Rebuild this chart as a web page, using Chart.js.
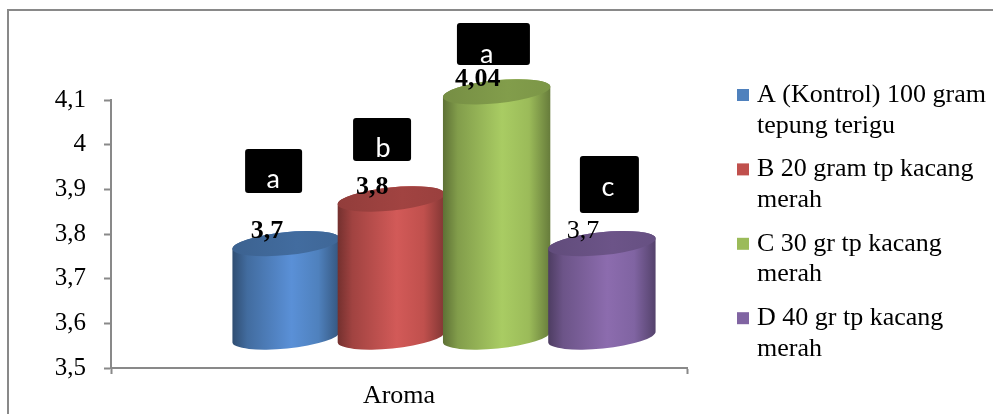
<!DOCTYPE html>
<html>
<head>
<meta charset="utf-8">
<title>Aroma</title>
<script src="https://cdn.jsdelivr.net/npm/chart.js@4.4.1/dist/chart.umd.min.js"></script>
<style>
  html, body { margin: 0; padding: 0; background: #ffffff; }
  #wrap { position: relative; width: 993px; height: 414px; }
</style>
</head>
<body>
<div id="wrap"><canvas id="chart"></canvas></div>
<script>
// ---- data ----
const categories = ['Aroma'];
const seriesLabels = [
  ['A (Kontrol) 100 gram', 'tepung terigu'],
  ['B 20 gram tp kacang', 'merah'],
  ['C 30 gr tp kacang', 'merah'],
  ['D 40 gr tp kacang', 'merah']
];
const scoreA = [3.7];
const scoreB = [3.8];
const scoreC = [4.04];
const scoreD = [3.7];
const seriesValues = [scoreA, scoreB, scoreC, scoreD];
const significance = ['a', 'b', 'a', 'c'];
const yMin = 3.5;
const yMax = 4.1;
const yStep = 0.1;

// ---- styles ----
const seriesColors = ['#4F81BD', '#C0504D', '#9BBB59', '#8064A2'];
const seriesHighlights = ['#5A90D7', '#D25A58', '#A9CC63', '#8C6CAE'];
const valueBold = [true, true, true, false];
const SERIF = '"Liberation Serif", "Times New Roman", serif';
const SANS = 'Lato, "Open Sans", sans-serif';
const AXIS = '#898989';
// 3D depth shift of the cylinders relative to the front axis plane
const DEPTH = { x: 45, top: 35, base: 31 };
// significance tag boxes, relative to cylinder centre / top
const tagBoxes = [
  { left: -41, top: -94.7, w: 57, h: 44, tx: -13, ty: -55.7 },
  { left: -38.3, top: -81, w: 58, h: 43, tx: -8.3, ty: -42 },
  { left: -39.7, top: -68.8, w: 73, h: 42, tx: -10, ty: -28.8 },
  { left: -22, top: -87.7, w: 59, h: 57, tx: 6, ty: -47.7 }
];

const fmt = v => String(Math.round(v * 100) / 100).replace('.', ',');

function shade(hex, f) {
  const n = parseInt(hex.slice(1), 16);
  let r = (n >> 16) & 255, g = (n >> 8) & 255, b = n & 255;
  const t = f < 0 ? 0 : 255, p = Math.abs(f);
  r = Math.round(r + (t - r) * p);
  g = Math.round(g + (t - g) * p);
  b = Math.round(b + (t - b) * p);
  return `rgb(${r},${g},${b})`;
}

function drawCylinder(ctx, cx, topY, baseY, w, color, light) {
  const rx = w / 2, ry = 11.5, rot = -0.1;
  const lx = -rx * Math.cos(rot), ly = -rx * Math.sin(rot);
  ctx.save();
  const body = ctx.createLinearGradient(cx - rx, 0, cx + rx, 0);
  body.addColorStop(0, shade(color, -0.4));
  body.addColorStop(0.14, shade(color, -0.16));
  body.addColorStop(0.55, light);
  body.addColorStop(0.8, shade(color, 0));
  body.addColorStop(1, shade(color, -0.34));
  ctx.beginPath();
  ctx.moveTo(cx + lx, topY + ly);
  ctx.lineTo(cx + lx, baseY + ly);
  ctx.ellipse(cx, baseY, rx, ry, rot, Math.PI, 0, true);
  ctx.lineTo(cx - lx, topY - ly);
  ctx.ellipse(cx, topY, rx, ry, rot, 0, -Math.PI, true);
  ctx.closePath();
  ctx.fillStyle = body;
  ctx.fill();

  const top = ctx.createLinearGradient(cx - rx, topY, cx + rx, topY);
  top.addColorStop(0, shade(color, -0.24));
  top.addColorStop(0.6, shade(color, -0.16));
  top.addColorStop(1, shade(color, -0.2));
  ctx.beginPath();
  ctx.ellipse(cx, topY, rx, ry, rot, 0, Math.PI * 2);
  ctx.fillStyle = top;
  ctx.fill();
  ctx.restore();
}

const framePlugin = {
  id: 'frame',
  beforeDraw(chart) {
    const ctx = chart.ctx;
    ctx.save();
    ctx.strokeStyle = AXIS;
    ctx.lineWidth = 2;
    ctx.strokeRect(8, 10, chart.width + 20, chart.height + 20);
    ctx.restore();
  }
};

const cylinderPlugin = {
  id: 'cylinders',
  beforeDatasetsDraw(chart) {
    const ctx = chart.ctx;
    const floor = chart.scales.y.getPixelForValue(yMin);
    chart.data.datasets.forEach((ds, i) => {
      chart.getDatasetMeta(i).data.forEach(bar => {
        drawCylinder(ctx, bar.x + DEPTH.x, bar.y - DEPTH.top, floor - DEPTH.base, bar.width,
          seriesColors[i], seriesHighlights[i]);
      });
    });
    return false;
  }
};

const annotatePlugin = {
  id: 'annotate',
  afterDraw(chart) {
    const ctx = chart.ctx;
    ctx.save();
    chart.data.datasets.forEach((ds, i) => {
      chart.getDatasetMeta(i).data.forEach((bar, j) => {
        const cx = bar.x + DEPTH.x;
        const ty = bar.y - DEPTH.top;
        const tb = tagBoxes[i];
        // significance tag
        ctx.fillStyle = '#000000';
        ctx.beginPath();
        ctx.roundRect(cx + tb.left, ty + tb.top, tb.w, tb.h, 3);
        ctx.fill();
        ctx.fillStyle = '#ffffff';
        ctx.font = `27px ${SANS}`;
        ctx.textAlign = 'center';
        ctx.textBaseline = 'alphabetic';
        ctx.fillText(significance[i], cx + tb.tx, ty + tb.ty);
        // value label
        ctx.fillStyle = '#000000';
        ctx.font = `${valueBold[i] ? 'bold ' : ''}26px ${SERIF}`;
        ctx.fillText(fmt(ds.data[j]), cx - 19, ty - 5.5);
      });
    });

    // legend
    const lx = chart.chartArea.right + 50;
    ctx.textAlign = 'left';
    ctx.textBaseline = 'alphabetic';
    ctx.font = `26px ${SERIF}`;
    chart.data.datasets.forEach((ds, i) => {
      const base = 102 + i * 74.4;
      ctx.fillStyle = seriesColors[i];
      ctx.fillRect(lx, base - 13, 12, 12);
      ctx.fillStyle = '#000000';
      ds.label.forEach((line, k) => ctx.fillText(line, lx + 20, base + k * 30.6));
    });
    ctx.restore();
  }
};

new Chart(document.getElementById('chart'), {
  type: 'bar',
  data: {
    labels: categories,
    datasets: seriesValues.map((vals, i) => ({
      label: seriesLabels[i],
      data: vals,
      backgroundColor: seriesColors[i],
      borderWidth: 0,
      categoryPercentage: 0.731,
      barPercentage: 1.025
    }))
  },
  options: {
    responsive: true,
    maintainAspectRatio: false,
    animation: false,
    layout: { padding: { top: 100, right: 306, bottom: 0, left: 51 } },
    plugins: {
      legend: { display: false },
      tooltip: { enabled: false }
    },
    scales: {
      x: {
        offset: true,
        grid: { offset: true, drawOnChartArea: false, drawTicks: true, tickLength: 6, tickColor: AXIS, tickWidth: 2 },
        border: { color: AXIS, width: 2 },
        ticks: { color: '#000000', font: { family: SERIF, size: 26 }, padding: 7 },
        afterFit(s) { s.height = 46; s.paddingLeft = 0; s.paddingRight = 0; }
      },
      y: {
        min: yMin,
        max: yMax,
        grid: { drawOnChartArea: false, drawTicks: true, tickLength: 7, tickColor: AXIS, tickWidth: 2 },
        border: { color: AXIS, width: 2 },
        ticks: {
          stepSize: yStep,
          color: '#000000',
          font: { family: SERIF, size: 25 },
          padding: 18,
          callback: v => fmt(v)
        },
        afterFit(s) { s.width = 60; s.paddingTop = 0; s.paddingBottom = 0; }
      }
    }
  },
  plugins: [framePlugin, cylinderPlugin, annotatePlugin]
});
</script>
</body>
</html>
